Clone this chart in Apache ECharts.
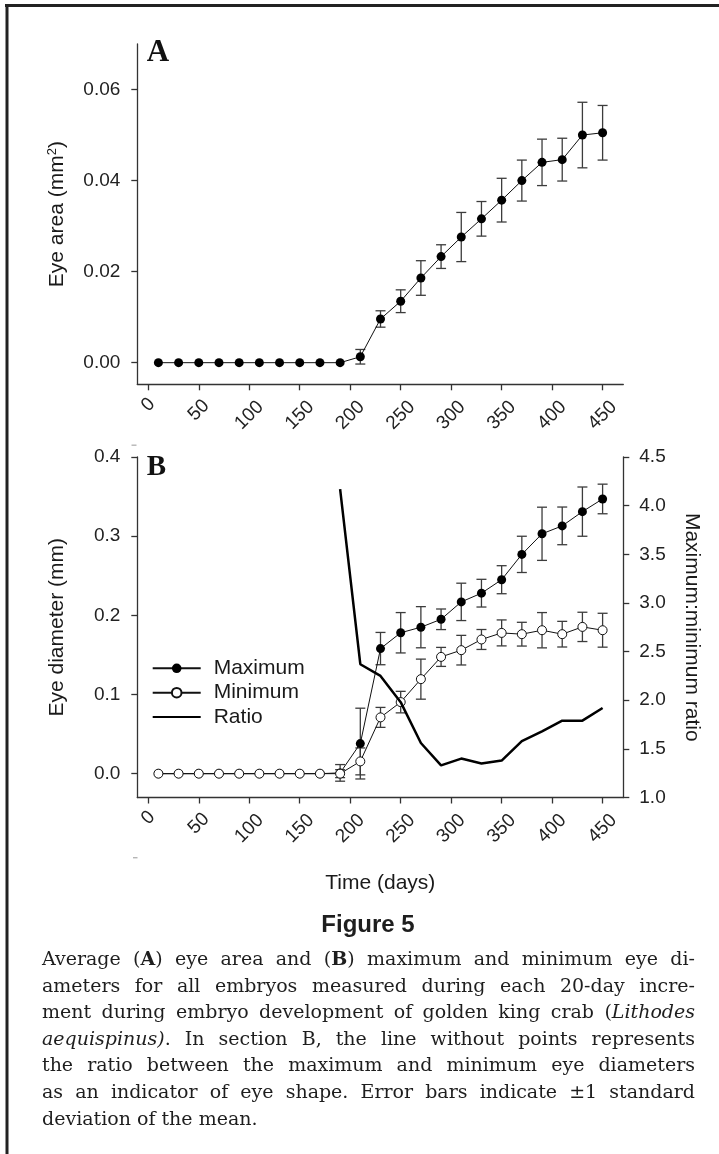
<!DOCTYPE html>
<html>
<head>
<meta charset="utf-8">
<script src="https://cdn.jsdelivr.net/npm/echarts@6/dist/echarts.min.js"></script>
<style>
html,body{margin:0;padding:0;background:#fff;}
#c{width:719px;height:1154px;}
</style>
</head>
<body>
<div id="c"></div>
<script>
// ---------------- DATA ----------------
const days = [10,30,50,70,90,110,130,150,170,190,210,230,250,270,290,310,330,350,370,390,410,430,450];
const eyeArea   = [0,0,0,0,0,0,0,0,0,0,0.0013,0.0096,0.0135,0.0186,0.0233,0.0276,0.0316,0.0357,0.0400,0.0440,0.0446,0.0500,0.0505];
const eyeAreaSD = [null,null,null,null,null,null,null,null,null,null,0.0016,0.0018,0.0025,0.0038,0.0026,0.0054,0.0038,0.0048,0.0045,0.0051,0.0047,0.0072,0.0060];
const maxDiam   = [0,0,0,0,0,0,0,0,0,0.001,0.038,0.158,0.178,0.185,0.195,0.217,0.228,0.245,0.277,0.303,0.313,0.331,0.347];
const maxDiamSD = [null,null,null,null,null,null,null,null,null,0.0105,0.0447,0.0204,0.0255,0.026,0.013,0.0236,0.0175,0.0177,0.0229,0.0336,0.0238,0.0311,0.0187];
const minDiam   = [0,0,0,0,0,0,0,0,0,0,0.0155,0.0711,0.0904,0.1194,0.1475,0.156,0.1695,0.1778,0.1762,0.1812,0.1762,0.1854,0.1812];
const minDiamSD = [null,null,null,null,null,null,null,null,null,0.005,0.017,0.0126,0.0136,0.0253,0.012,0.0187,0.0126,0.0164,0.015,0.0223,0.0162,0.0185,0.0214];
const ratioDays = [190,210,230,250,270,290,310,330,350,370,390,410,430,450];
const ratio     = [4.17,2.37,2.25,1.98,1.56,1.33,1.40,1.35,1.38,1.58,1.68,1.79,1.79,1.92];
const xTicks    = [0,50,100,150,200,250,300,350,400,450];
const areaTicks = [0,0.02,0.04,0.06];
const diamTicks = [0,0.1,0.2,0.3,0.4];
const ratioTicks = [1.0,1.5,2.0,2.5,3.0,3.5,4.0,4.5];
const legendNames = ['Maximum','Minimum','Ratio'];
const captionLines = [
  'Average (*A*) eye area and (*B*) maximum and minimum eye di-',
  'ameters for all embryos measured during each 20-day incre-',
  'ment during embryo development of golden king crab (_Lithodes_',
  '_aequispinus)_. In section B, the line without points represents',
  'the ratio between the maximum and minimum eye diameters',
  'as an indicator of eye shape. Error bars indicate \u00b11 standard',
  'deviation of the mean.'
];

// ---------------- STYLE ----------------
const SANS = '"Liberation Sans", Arial, Helvetica, sans-serif';
const SERIF = '"Liberation Serif", "Times New Roman", serif';
const CAPF = '"DejaVu Serif", serif';
const INK = '#1a1a1a';
const AXC = '#333';

function pairs(xs, ys){ return xs.map((d,i)=> ys[i]==null ? null : [d, ys[i]]).filter(Boolean); }
function errData(xs, m, s){ const o=[]; xs.forEach((d,i)=>{ if(s[i]!=null) o.push([d, m[i]-s[i], m[i]+s[i]]); }); return o; }

function renderErr(params, api){
  const x = api.value(0), lo = api.value(1), hi = api.value(2);
  const a = api.coord([x, lo]), b = api.coord([x, hi]);
  const st = {stroke:'#3c3c3c', lineWidth:1.3, fill:null};
  const cw = 5;
  return {type:'group', children:[
    {type:'line', shape:{x1:a[0],y1:a[1],x2:b[0],y2:b[1]}, style:st},
    {type:'line', shape:{x1:a[0]-cw,y1:a[1],x2:a[0]+cw,y2:a[1]}, style:st},
    {type:'line', shape:{x1:b[0]-cw,y1:b[1],x2:b[0]+cw,y2:b[1]}, style:st}
  ]};
}

const axLine = {show:true, onZero:false, lineStyle:{color:AXC, width:1.3}};
function tick(vals){ return {show:true, length:6, customValues:vals, lineStyle:{color:AXC, width:1.3}}; }
const rtxt = {fontSize:19, fontFamily:SANS, color:'#222'};
function xLabel(){
  return {
    show:true, rotate:45, align:'center', verticalAlign:'middle', margin:31,
    customValues:xTicks, fontSize:19, fontFamily:SANS, color:'#222',
    formatter: v => '{d' + String(v).length + '|' + v + '}',
    rich:{
      d1:Object.assign({padding:[0,0,15,15]}, rtxt),
      d2:Object.assign({padding:[0,0,7,7]}, rtxt),
      d3:Object.assign({}, rtxt)
    }
  };
}
function yLabel(vals, dec, margin){
  return {show:true, customValues:vals, margin:margin, fontSize:19, fontFamily:SANS, color:'#222',
          formatter: v => Number(v).toFixed(dec)};
}
const nameStyle = {fontSize:21, fontFamily:SANS, color:INK,
  rich:{sup:{fontSize:13, fontFamily:SANS, color:INK, verticalAlign:'top'}}};

// ---------------- CAPTION LAYOUT (justified text) ----------------
function parseLine(s){
  const words=[]; let cur=[]; let bold=false, ital=false; let buf='';
  const flush=()=>{ if(buf){ cur.push({t:buf,b:bold,i:ital}); buf=''; } };
  for (const ch of s){
    if(ch==='*'){ flush(); bold=!bold; }
    else if(ch==='_'){ flush(); ital=!ital; }
    else if(ch===' '){ flush(); if(cur.length) words.push(cur); cur=[]; }
    else buf+=ch;
  }
  flush(); if(cur.length) words.push(cur);
  return words;
}
const mctx = document.createElement('canvas').getContext('2d');
function segFont(seg, size){ return (seg.i?'italic':'normal') + ' ' + (seg.b?'bold':'normal') + ' ' + size + 'px ' + CAPF; }
function segW(seg, size){ mctx.font = segFont(seg, size); return mctx.measureText(seg.t).width; }
function spaceW(size){ mctx.font = segFont({}, size); return mctx.measureText(' ').width; }

const capLeft = 42, capWidth = 653, capTop = 960, capStep = 26.6;
const parsed = captionLines.map(parseLine);
// fit font so the tightest justified line keeps normal word spaces
const base = 20;
let capSize = 19;
parsed.forEach((words, li)=>{
  if (li === parsed.length-1) return;
  let nat = 0; words.forEach(w=>w.forEach(s=>nat+=segW(s,base)));
  nat += (words.length-1)*spaceW(base);
  capSize = Math.min(capSize, base*capWidth/nat);
});
capSize = Math.floor(capSize*10)/10;

const capGraphics = [];
parsed.forEach((words, li)=>{
  const ww = words.map(w=>w.reduce((a,s)=>a+segW(s,capSize),0));
  const sum = ww.reduce((a,b)=>a+b,0);
  const last = li === parsed.length-1;
  const gap = last ? spaceW(capSize) : (capWidth - sum)/(words.length-1);
  let x = capLeft;
  const y = capTop + li*capStep;
  words.forEach((w, wi)=>{
    let sx = x;
    w.forEach(seg=>{
      capGraphics.push({type:'text', x:sx, y:y, silent:true, style:{
        text:seg.t, fontSize:capSize, fontFamily:CAPF,
        fontWeight: seg.b?'bold':'normal', fontStyle: seg.i?'italic':'normal',
        fill:'#1e1e1e', textVerticalAlign:'middle', textAlign:'left'}});
      sx += segW(seg, capSize);
    });
    x += ww[wi] + gap;
  });
});

// ---------------- CHART ----------------
const chart = echarts.init(document.getElementById('c'), null, {renderer:'canvas'});
const option = {
  animation:false,
  backgroundColor:'#fff',
  grid:[
    {left:137.3, top:44, width:486, height:340.3},
    {left:137.3, top:457, width:486, height:340.5}
  ],
  xAxis:[
    {type:'value', gridIndex:0, min:-10.9, max:470.5, axisLine:axLine, axisTick:tick(xTicks), axisLabel:xLabel(), splitLine:{show:false}},
    {type:'value', gridIndex:1, min:-10.9, max:470.5, axisLine:axLine, axisTick:tick(xTicks), axisLabel:xLabel(), splitLine:{show:false},
     name:'Time (days)', nameLocation:'middle', nameGap:75, nameMoveOverlap:false, nameTextStyle:nameStyle}
  ],
  yAxis:[
    {type:'value', gridIndex:0, position:'left', min:-0.00475, max:0.07, axisLine:axLine, axisTick:tick(areaTicks),
     axisLabel:yLabel(areaTicks,2,17), splitLine:{show:false},
     name:'Eye area (mm{sup|2})', nameLocation:'middle', nameRotate:90, nameGap:70, nameMoveOverlap:false, nameTextStyle:nameStyle},
    {type:'value', gridIndex:1, position:'left', min:-0.0301, max:0.4, axisLine:axLine, axisTick:tick(diamTicks),
     axisLabel:yLabel(diamTicks,1,17), splitLine:{show:false},
     name:'Eye diameter (mm)', nameLocation:'middle', nameRotate:90, nameGap:70, nameMoveOverlap:false, nameTextStyle:nameStyle},
    {type:'value', gridIndex:1, position:'right', min:1.0, max:4.5, interval:0.5, axisLine:axLine, axisTick:tick(ratioTicks),
     axisLabel:yLabel(ratioTicks,1,16), splitLine:{show:false},
     name:'Maximum:minimum ratio', nameLocation:'middle', nameRotate:-90, nameGap:58, nameMoveOverlap:false, nameTextStyle:nameStyle}
  ],
  legend:{
    data:[{name:'Maximum'},{name:'Minimum'},{name:'Ratio', itemStyle:{opacity:0, color:'rgba(0,0,0,0)', borderWidth:0}}],
    orient:'vertical', left:151.7, top:657.8, padding:0,
    itemWidth:48, itemHeight:12, itemGap:3.4, selectedMode:false,
    textStyle:{fontSize:21, fontFamily:SANS, color:INK, padding:[0,0,0,8]}
  },
  series:[
    {type:'custom', name:'areaErr', xAxisIndex:0, yAxisIndex:0, renderItem:renderErr, data:errData(days, eyeArea, eyeAreaSD), encode:{x:0, y:[1,2]}, z:1, silent:true},
    {type:'line', name:'Eye area', xAxisIndex:0, yAxisIndex:0, data:pairs(days, eyeArea), symbol:'circle', symbolSize:9, showSymbol:true,
     itemStyle:{color:'#000'}, lineStyle:{color:'#111', width:1}, z:3, silent:true},
    {type:'custom', name:'maxErr', xAxisIndex:1, yAxisIndex:1, renderItem:renderErr, data:errData(days, maxDiam, maxDiamSD), encode:{x:0, y:[1,2]}, z:1, silent:true},
    {type:'custom', name:'minErr', xAxisIndex:1, yAxisIndex:1, renderItem:renderErr, data:errData(days, minDiam, minDiamSD), encode:{x:0, y:[1,2]}, z:1, silent:true},
    {type:'line', name:'Maximum', xAxisIndex:1, yAxisIndex:1, data:pairs(days, maxDiam), symbol:'circle', symbolSize:9, showSymbol:true,
     itemStyle:{color:'#000'}, lineStyle:{color:'#111', width:1}, z:3, silent:true},
    {type:'line', name:'Minimum', xAxisIndex:1, yAxisIndex:1, data:pairs(days, minDiam), symbol:'circle', symbolSize:9, showSymbol:true,
     itemStyle:{color:'#fff', borderColor:'#111', borderWidth:1}, lineStyle:{color:'#111', width:1}, z:4, silent:true},
    {type:'line', name:'Ratio', xAxisIndex:1, yAxisIndex:2, data:pairs(ratioDays, ratio), symbol:'none', showSymbol:false,
     itemStyle:{color:'#000'}, lineStyle:{color:'#000', width:2.5}, z:5, silent:true}
  ],
  graphic:[
    {type:'line', silent:true, shape:{x1:5, y1:5.5, x2:719, y2:5.5}, style:{stroke:'#222', lineWidth:3}},
    {type:'line', silent:true, shape:{x1:7, y1:4, x2:7, y2:1154}, style:{stroke:'#222', lineWidth:3}},
    {type:'text', silent:true, x:146.7, y:52.5, style:{text:'A', fontSize:31, fontWeight:'bold', fontFamily:SERIF, fill:'#111', textVerticalAlign:'middle'}},
    {type:'text', silent:true, x:146.7, y:467.5, style:{text:'B', fontSize:29, fontWeight:'bold', fontFamily:SERIF, fill:'#111', textVerticalAlign:'middle'}},
    {type:'rect', silent:true, shape:{x:131.5, y:444.5, width:5, height:1.4}, style:{fill:'#b5b5b5'}},
    {type:'rect', silent:true, shape:{x:133, y:857, width:4.5, height:1.4}, style:{fill:'#b5b5b5'}},
    {type:'text', silent:true, x:368, y:925, style:{text:'Figure 5', fontSize:24, fontWeight:'bold', fontFamily:SANS, fill:'#1e1e1e', textAlign:'center', textVerticalAlign:'middle'}}
  ].concat(capGraphics)
};
chart.setOption(option);
</script>
</body>
</html>
